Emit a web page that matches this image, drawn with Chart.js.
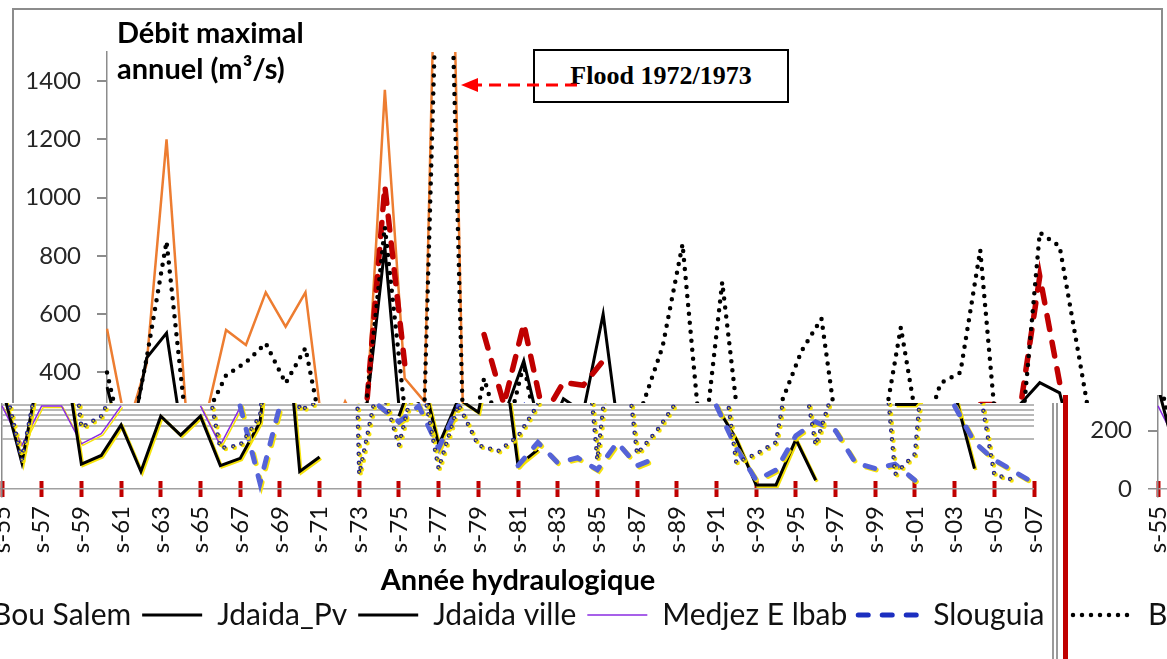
<!DOCTYPE html>
<html><head><meta charset="utf-8">
<script src="https://cdn.jsdelivr.net/npm/chart.js@4.4.1/dist/chart.umd.min.js"></script>
<style>
html,body{margin:0;padding:0;background:#fff;overflow:hidden;}
body{width:1167px;height:659px;position:relative;}
.reg{position:absolute;overflow:hidden;}
.copy{position:absolute;width:1167px;height:659px;}
.frame{position:absolute;left:12px;top:8px;width:1151px;height:720px;box-sizing:border-box;border:2px solid #8c8c8c;}
canvas{position:absolute;left:0;top:0;}
.ytitle{position:absolute;left:117px;top:14px;font:bold 29px/36px Lato,sans-serif;color:#000;white-space:nowrap;}
.flood{position:absolute;left:533px;top:49px;width:256px;height:54px;box-sizing:border-box;border:2px solid #000;background:#fff;
  font:bold 26px 'Liberation Serif',serif;color:#000;display:flex;align-items:center;justify-content:center;}
svg.arrow{position:absolute;left:0;top:0;}
</style></head><body>
<div class="reg" id="regA" style="left:0;top:0;width:1167px;height:403px"><div class="copy" id="copyA" style="left:0;top:0"></div></div>
<div class="reg" id="regB" style="left:0;top:403px;width:1060px;height:256px"><div class="copy" id="copyB" style="left:-105px;top:-403px"></div></div>
<div class="reg" id="regC" style="left:1060px;top:395px;width:107px;height:264px"><div class="copy" id="copyC" style="left:-9px;top:-395px"></div></div>
<script>
// ---- categories (hydrological years) ----
const years = ['s-55','s-56','s-57','s-58','s-59','s-60','s-61','s-62','s-63','s-64','s-65','s-66','s-67','s-68','s-69',
 's-70','s-71','s-72','s-73','s-74','s-75','s-76','s-77','s-78','s-79','s-80','s-81','s-82','s-83','s-84','s-85','s-86',
 's-87','s-88','s-89','s-90','s-91','s-92','s-93','s-94','s-95','s-96','s-97','s-98','s-99','s-00','s-01','s-02','s-03',
 's-04','s-05','s-06','s-07'];
// ---- series: annual maximum discharge (m3/s) ----
const bouSalem = [400,100,450,850,210,250,390,435,500,363,484,140,150,250,900,270,300,2700,50,380,150,430,70,290,150,130,
 180,290,490,840,100,710,120,200,300,474,585,90,120,160,555,150,363,400,820,50,120,880,833,445,50,30,null];
const jdaidaPv = [350,90,450,535,85,115,220,60,250,185,250,80,105,230,830,60,110,null,null,null,250,440,150,310,263,600,80,135,
 null,null,null,null,null,null,null,null,null,null,null,null,null,null,null,null,null,290,290,365,330,70,null,null,null];
const jdaidaVille = [null,null,null,null,null,null,null,null,null,null,null,null,null,null,null,null,null,null,null,null,null,
 null,null,null,null,null,null,null,null,null,null,null,null,null,null,null,285,170,14,14,170,30,null,null,null,null,null,null,
 null,null,null,null,null];
const medjez = [285,150,285,285,155,190,285,null,null,null,285,150,280,null,null,null,null,null,null,null,null,null,null,null,
 null,null,null,null,null,null,null,null,null,null,null,null,null,null,null,null,null,null,null,null,null,null,null,null,null,
 null,null,null,null];
const slouguia = [null,null,null,null,null,null,null,null,null,null,null,null,285,20,285,null,null,null,null,285,230,285,140,285,
 null,null,80,160,90,107,66,160,80,107,null,null,285,140,30,65,183,230,200,90,70,85,30,null,285,160,100,60,20];
const ghardimaou = [550,200,430,1200,250,250,546,494,675,557,675,130,300,170,1370,380,300,3270,50,null,null,null,null,null,null,
 null,null,null,null,null,null,null,null,null,null,null,null,null,null,null,null,null,null,null,null,null,null,null,null,null,
 null,null,null];
const jendouba = [null,null,null,null,null,null,null,null,null,null,null,null,null,220,1040,430,null,null,null,530,290,567,250,
 366,356,440,null,null,null,null,null,null,null,null,null,null,null,null,null,null,null,null,null,null,290,290,270,730,365,
 null,null,null,null];
// ---- axis ticks ----
const yTickValues = [0,200,400,600,800,1000,1200,1400];
const bandLines = [287,280,272,263,254,245,236,226,215,190,172];
const yMin = -27.6, yMax = 1500;

Chart.defaults.font.family = "Lato, 'Open Sans', sans-serif";
Chart.defaults.color = '#111';

function datasetsFor(variant){
  const B = variant === 'B';
  const list = [
    {label:'Bou Salem', data:bouSalem, borderColor:B?'#26268a':'#000', borderWidth:B?4.5:4.5, borderDash:[0,9], borderCapStyle:'round', order:1},
  ];
  if (B) list.push({label:'Bou Salem*', data:bouSalem, borderColor:'#f0e400', borderWidth:1.8, borderDash:[0,9], borderCapStyle:'round', order:0, noLegend:true});
  list.push(
    {label:'Jdaida_Pv', data:jdaidaPv, borderColor:'#000', borderWidth:3, order:4},
    {label:'Jdaida ville', data:jdaidaVille, borderColor:'#000', borderWidth:3, order:4},
    {label:'Medjez E lbab', data:medjez, borderColor:'#8a2be2', borderWidth:1.5, order:5},
    {label:'Slouguia', data:slouguia, borderColor:B?'#5563d8':'#3b4bd0', legendColor:'#1c2fc0', borderWidth:5, borderDash:[10,14], borderCapStyle:'round', order:3}
  );
  if (!B) {
    list.push({label:'Ghardimaou', data:ghardimaou, borderColor:'#ed7d31', borderWidth:2.5, order:6, noLegend:true});
    list.push({label:'Jendouba', data:jendouba, borderColor:'#c00000', borderWidth:5.5, borderDash:[14,13], borderCapStyle:'round', order:2, noLegend:true});
  }
  return list.map(d => Object.assign({pointRadius:0, pointHoverRadius:0, tension:0, fill:false, spanGaps:false}, d));
}

const glitch = {
  id:'glitch',
  beforeDatasetsDraw(c){ const x=c.ctx; x.save(); x.shadowColor='rgba(245,225,0,0.95)'; x.shadowOffsetX=1.5; x.shadowOffsetY=1.5; x.shadowBlur=0; },
  afterDatasetsDraw(c){ c.ctx.restore(); }
};

function config(variant){
  const B = variant === 'B';
  return {
    type:'line',
    data:{ labels:years, datasets:datasetsFor(variant) },
    plugins: B ? [glitch] : [],
    options:{
      responsive:false, animation:false, devicePixelRatio:1,
      layout:{ padding:{left:11, right:-20, top:52, bottom:19} },
      plugins:{
        tooltip:{enabled:false},
        title:{display:false},
        legend:{
          display:true, position:'bottom', align:'start',
          labels:{
            usePointStyle:true, pointStyle:'line', pointStyleWidth:60, padding:11,
            font:{size:30}, color:'#111',
            generateLabels: chart => chart.data.datasets
              .map((d,i) => ({text:d.label, strokeStyle:d.legendColor||d.borderColor, fillStyle:'rgba(0,0,0,0)',
                 lineWidth:d.borderWidth, lineDash:d.borderDash||[], lineCap:d.borderCapStyle||'butt',
                 pointStyle:'line', hidden:false, datasetIndex:i, fontColor:'#111'}))
              .filter(it => !chart.data.datasets[it.datasetIndex].noLegend)
          }
        }
      },
      scales:{
        x:{
          type:'category', offset:false,
          afterFit: s => { s.height = 92; s.paddingLeft = 0; s.paddingRight = 28; },
          border:{display:false},
          grid:{drawOnChartArea:false, drawTicks:true, tickLength:-16, tickWidth:4,
                tickColor: ctx => (ctx.index % 2 === 0 ? '#c00000' : 'rgba(0,0,0,0)')},
          ticks:{autoSkip:false, maxRotation:90, minRotation:90, padding:25, font:{size:24}, color:'#111',
                 callback: function(v,i){ return i % 2 === 0 ? this.getLabelForValue(v) : ''; }},
          title:{display:true, text:'Année hydraulogique', font:{size:29, weight:'bold', lineHeight:1}, color:'#000', padding:{top:0,bottom:-6}}
        },
        y:{
          min:yMin, max:yMax,
          afterBuildTicks: s => { s.ticks = (B ? yTickValues.concat(bandLines) : yTickValues).map(v => ({value:v})); },
          afterFit: s => { s.width = 96; },
          border:{color:'#8c8c8c', width:1.5},
          grid:{
            drawOnChartArea:true, tickLength:10,
            color: ctx => { const v = ctx.tick ? ctx.tick.value : null;
              if (v === 0) return '#a0a0a0';
              if (B && bandLines.includes(v)) return '#b8b8b8';
              return 'rgba(0,0,0,0)'; },
            lineWidth: ctx => (ctx.tick && ctx.tick.value === 0 ? 1.5 : 2),
            tickColor: ctx => (ctx.tick && bandLines.includes(ctx.tick.value) ? 'rgba(0,0,0,0)' : '#8c8c8c')
          },
          ticks:{font:{size:24}, color:'#262626', padding:16,
                 callback: v => (bandLines.includes(v) ? '' : String(v))}
        }
      }
    }
  };
}

function buildCopy(id, variant){
  const copy = document.getElementById(id);
  const frame = document.createElement('div');
  frame.className = 'frame';
  if (variant === 'B') frame.style.borderRight = '6px double #9a9a9a';
  if (variant === 'C') frame.style.borderLeft = '5px solid #c00000';
  copy.appendChild(frame);
  const cv = document.createElement('canvas');
  cv.width = 1167; cv.height = 659;
  copy.appendChild(cv);
  if (variant === 'A') {
    const t = document.createElement('div');
    t.className = 'ytitle';
    t.innerHTML = 'Débit maximal<br>annuel (m³/s)';
    copy.appendChild(t);
    const f = document.createElement('div');
    f.className = 'flood';
    f.textContent = 'Flood 1972/1973';
    copy.appendChild(f);
    const ns = 'http://www.w3.org/2000/svg';
    const svg = document.createElementNS(ns,'svg');
    svg.setAttribute('class','arrow'); svg.setAttribute('width','1167'); svg.setAttribute('height','659');
    const ln = document.createElementNS(ns,'line');
    ln.setAttribute('x1','577'); ln.setAttribute('y1','85'); ln.setAttribute('x2','476'); ln.setAttribute('y2','85');
    ln.setAttribute('stroke','#ff0000'); ln.setAttribute('stroke-width','3'); ln.setAttribute('stroke-dasharray','12 7');
    svg.appendChild(ln);
    const hd = document.createElementNS(ns,'polygon');
    hd.setAttribute('points','461,85 478,78 478,92'); hd.setAttribute('fill','#ff0000');
    svg.appendChild(hd);
    copy.appendChild(svg);
  }
  new Chart(cv, config(variant));
}
buildCopy('copyA','A');
buildCopy('copyB','B');
buildCopy('copyC','C');
</script>
</body></html>
